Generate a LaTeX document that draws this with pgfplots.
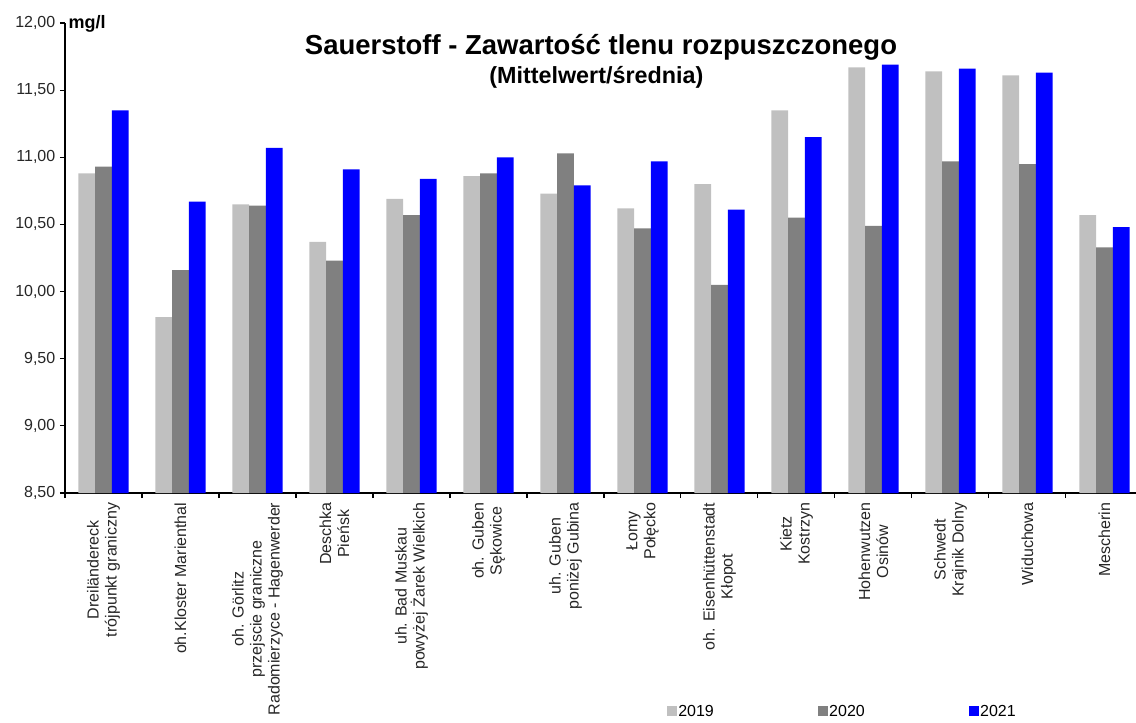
\documentclass[border=0pt]{standalone}
\usepackage{fontspec}
\setmainfont{Liberation Sans}
\usepackage{pgfplots}
\pgfplotsset{compat=1.18}
\definecolor{c2019}{HTML}{C0C0C0}
\definecolor{c2020}{HTML}{808080}
\definecolor{c2021}{HTML}{0000FF}
\begin{document}
\begin{tikzpicture}
\begin{axis}[
  at={(0pt,0pt)}, anchor=south west,
  scale only axis,
  width=803.25pt, height=352.5pt,
  xmin=-0.5, xmax=13.41,
  ymin=8.5, ymax=12,
  ybar=0pt, bar width=0.217,
  axis x line*=bottom, axis y line*=left,
  axis line style={black, line width=0.8pt},
  tick align=outside,
  tick style={black, line width=0.8pt},
  major tick length=3.75pt, minor tick length=3.75pt,
  ytick={8.5,9,9.5,10,10.5,11,11.5,12},
  yticklabel style={/pgf/number format/.cd, fixed, fixed zerofill, precision=2, use comma, assume math mode=true},
  xtick={0,...,13},
  major x tick style={draw=none},
  minor xtick={-0.5,0.5,...,12.5},
  xticklabels={
    {Dreiländereck\\trójpunkt graniczny},
    {oh.Kloster Marienthal},
    {oh. Görlitz\\przejscie graniczne\\Radomierzyce - Hagenwerder},
    {Deschka\\Pieńsk},
    {uh. Bad Muskau\\powyżej Żarek Wielkich},
    {oh. Guben\\Sękowice},
    {uh. Guben\\poniżej Gubina},
    {Łomy\\Połęcko},
    {oh. Eisenhüttenstadt\\Kłopot},
    {Kietz\\Kostrzyn},
    {Hohenwutzen\\Osinów},
    {Schwedt\\Krajnik Dolny},
    {Widuchowa},
    {Mescherin}},
  xticklabel style={rotate=90, anchor=east, align=center, font=\fontsize{12}{13.5}\selectfont},
  ticklabel style={font=\fontsize{12}{13.5}\selectfont, text=black!85},
  legend style={at={(0.7255,-0.466)}, anchor=center, draw=none, fill=none,
    legend columns=3, font=\fontsize{12}{14}\selectfont,
    /tikz/every even column/.append style={column sep=77pt},
    nodes={inner sep=1pt}},
  sqleg/.style={legend image code/.code={\fill[##1] (0pt,-3.2pt) rectangle (7.5pt,4.3pt);}},
  clip=true,
]
\addplot[fill=c2019, draw=none, sqleg] coordinates {
 (0,10.88) (1,9.81) (2,10.65) (3,10.37) (4,10.69) (5,10.86) (6,10.73)
 (7,10.62) (8,10.80) (9,11.35) (10,11.67) (11,11.64) (12,11.61) (13,10.57)};
\addplot[fill=c2020, draw=none, sqleg] coordinates {
 (0,10.93) (1,10.16) (2,10.64) (3,10.23) (4,10.57) (5,10.88) (6,11.03)
 (7,10.47) (8,10.05) (9,10.55) (10,10.49) (11,10.97) (12,10.95) (13,10.33)};
\addplot[fill=c2021, draw=none, sqleg] coordinates {
 (0,11.35) (1,10.67) (2,11.07) (3,10.91) (4,10.84) (5,11.00) (6,10.79)
 (7,10.97) (8,10.61) (9,11.15) (10,11.69) (11,11.66) (12,11.63) (13,10.48)};
\legend{2019,2020,2021}
\end{axis}
\node[anchor=west, inner sep=0pt, font=\fontsize{13.5}{16}\selectfont\bfseries] at (2.5pt,352pt) {mg/l};
\node[anchor=base, font=\fontsize{20.6}{24}\selectfont\bfseries] at (402pt,329pt) {Sauerstoff - Zawartość tlenu rozpuszczonego};
\node[anchor=base, font=\fontsize{17.5}{21}\selectfont\bfseries] at (398.5pt,307.3pt) {(Mittelwert/średnia)};
\pgfresetboundingbox
\path[use as bounding box] (-48.75pt,-171.75pt) rectangle (803.25pt,369.75pt);
\end{tikzpicture}
\end{document}
